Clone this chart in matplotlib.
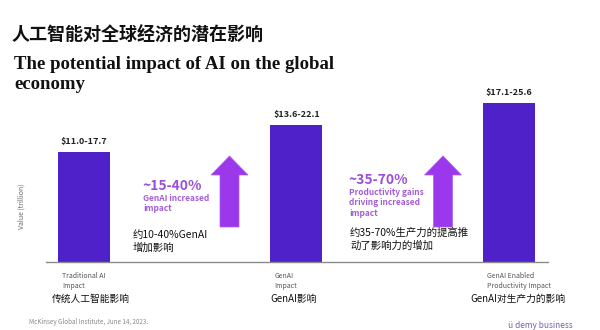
import matplotlib.pyplot as plt
from matplotlib.patches import FancyArrow

plt.rcParams['font.family'] = ['Noto Sans CJK SC', 'DejaVu Sans']

# data
categories = ["Traditional AI\nImpact", "GenAI\nImpact", "GenAI Enabled\nProductivity Impact"]
categories_cn = ["传统人工智能影响", "GenAI影响", "GenAI对生产力的影响"]
upper_values = [17.7, 22.1, 25.6]
range_labels = ["$11.0-17.7", "$13.6-22.1", "$17.1-25.6"]
uplift_pct = ["~15-40%", "~35-70%"]
uplift_desc = ["GenAI increased\nimpact", "Productivity gains\ndriving increased\nimpact"]
uplift_cn = ["约10-40%GenAI\n增加影响", "约35-70%生产力的提高推\n动了影响力的增加"]

W, H = 600, 330
fig = plt.figure(figsize=(6, 3.3), dpi=100)
fig.patch.set_facecolor("white")

# axes placed by pixel box: x 46..548, y 76..262
ax = fig.add_axes([46 / W, (H - 262) / H, (548 - 46) / W, (262 - 76) / H])
bar_w = 0.245
xs = list(range(len(upper_values)))
ax.bar(xs, upper_values, width=bar_w, color="#4f21c9", zorder=2)
ax.set_xlim(-0.179, 2.184)
ax.set_ylim(0, 30)
for s in ["top", "right", "left"]:
    ax.spines[s].set_visible(False)
ax.spines["bottom"].set_color("#8a8a8a")
ax.spines["bottom"].set_linewidth(1.0)
ax.set_xticks([])
ax.set_yticks([])

for x, v, lab in zip(xs, upper_values, range_labels):
    ax.text(x, v + 1.0, lab.replace("$", r"\$"), ha="center", va="bottom",
            fontsize=6.5, fontweight="bold", color="#222222")

for x, lab in zip(xs, categories):
    ax.text(x - bar_w / 2 + 0.02, -0.055, lab, transform=ax.get_xaxis_transform(),
            ha="left", va="top", fontsize=5, color="#555555", linespacing=1.35)

cn_x = [52, 270, 470]
for px, lab in zip(cn_x, categories_cn):
    fig.text(px / W, 1 - 299 / H, lab, ha="left", va="center", fontsize=7, color="#111111")

# arrows (in pixel-derived figure coords)
arrow_x = [229.5, 443]
for ax_px in arrow_x:
    fig.patches.append(FancyArrow(ax_px / W, 1 - 227 / H, 0, (227 - 156) / H,
                                  width=19 / W, head_width=37 / W,
                                  head_length=19 / H, length_includes_head=True,
                                  transform=fig.transFigure, color="#9b38ec",
                                  ec="#a860ee", lw=0.5))

txt_x = [143, 349]
pct_y = [186, 180]
for px, py, pct, desc, cn in zip(txt_x, pct_y, uplift_pct, uplift_desc, uplift_cn):
    fig.text(px / W, 1 - py / H, pct, ha="left", va="center", fontsize=10,
             fontweight="bold", color="#9b4fd8")
    fig.text(px / W, 1 - (py + 8) / H, desc, ha="left", va="top", fontsize=6,
             fontweight="bold", color="#a25ed8", linespacing=1.2)
cn_pos = [(133, 230), (350, 228)]
for (px, py), cn in zip(cn_pos, uplift_cn):
    fig.text(px / W, 1 - py / H, cn, ha="left", va="top", fontsize=7.5,
             color="#111111", linespacing=1.25)

# titles
fig.text(12 / W, 1 - 35 / H, "人工智能对全球经济的潜在影响", ha="left", va="center",
         fontsize=13, fontweight="bold", color="#111111")
fig.text(14 / W, 1 - 56 / H, "The potential impact of AI on the global\neconomy",
         ha="left", va="top", fontsize=13.5, fontweight="bold",
         family="Liberation Serif", color="#111111", linespacing=1.25)

fig.text(22 / W, 1 - 206 / H, "Value (trillion)", rotation=90, ha="center", va="center",
         fontsize=5, color="#666666")
fig.text(29 / W, 1 - 322 / H, "McKinsey Global Institute, June 14, 2023.", ha="left",
         va="center", fontsize=4.5, color="#888888")
fig.text(508 / W, 1 - 325 / H, "ü demy business", ha="left", va="center",
         fontsize=6, color="#7a5fb0")

fig.savefig("out.png", dpi=100)
